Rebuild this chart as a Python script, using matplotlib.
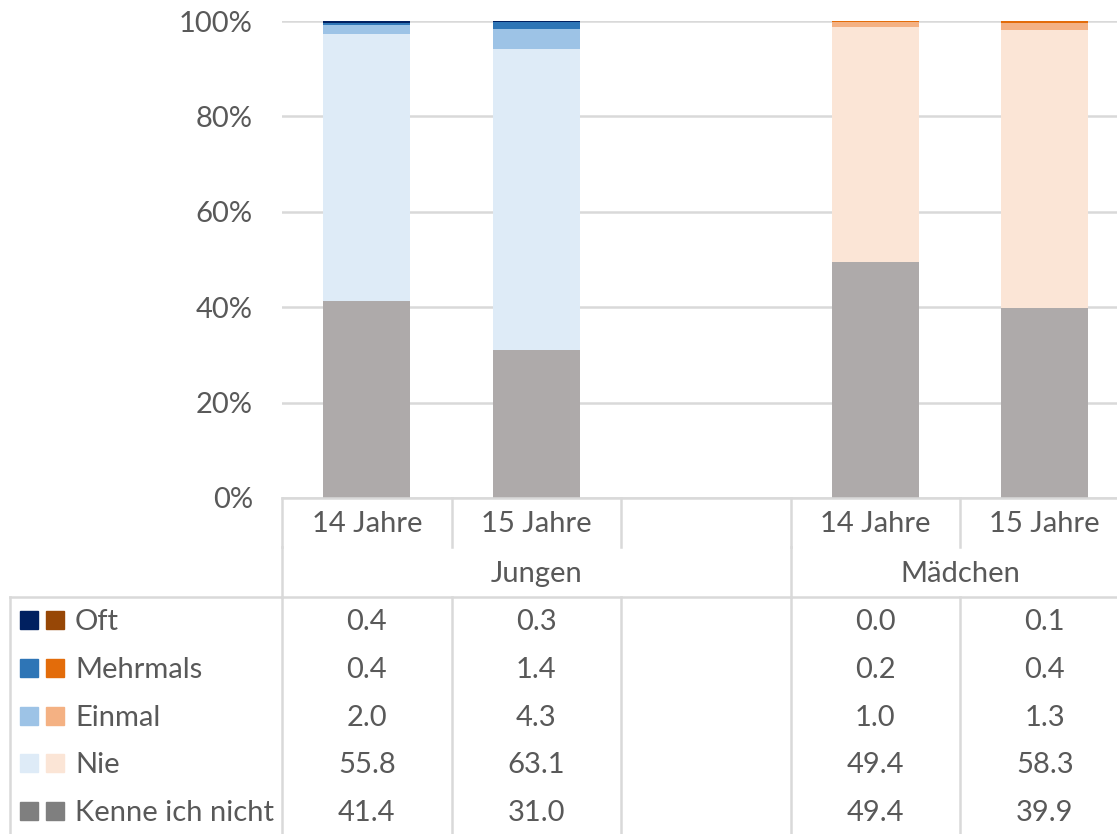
import matplotlib
matplotlib.use('Agg')
import matplotlib.pyplot as plt
from matplotlib.lines import Line2D
from matplotlib.patches import Rectangle
from matplotlib.transforms import blended_transform_factory
import numpy as np

# data
categories = ["14 Jahre", "15 Jahre", "", "14 Jahre", "15 Jahre"]
groups = ["Jungen", "Mädchen"]
series = ["Oft", "Mehrmals", "Einmal", "Nie", "Kenne ich nicht"]
jungen = {  # 14 Jahre, 15 Jahre
    "Oft": [0.4, 0.3],
    "Mehrmals": [0.4, 1.4],
    "Einmal": [2.0, 4.3],
    "Nie": [55.8, 63.1],
    "Kenne ich nicht": [41.4, 31.0],
}
maedchen = {
    "Oft": [0.0, 0.1],
    "Mehrmals": [0.2, 0.4],
    "Einmal": [1.0, 1.3],
    "Nie": [49.4, 58.3],
    "Kenne ich nicht": [49.4, 39.9],
}
blues = {"Oft": "#002060", "Mehrmals": "#2E75B6", "Einmal": "#9DC3E6",
         "Nie": "#DEEBF7", "Kenne ich nicht": "#AEAAAA"}
oranges = {"Oft": "#974706", "Mehrmals": "#E36C0A", "Einmal": "#F4B183",
           "Nie": "#FBE5D6", "Kenne ich nicht": "#AEAAAA"}
key_grey = "#7F7F7F"

W, H = 1117, 834
txt = "#595959"
grid = "#D9D9D9"
plt.rcParams['font.family'] = ['Lato', 'DejaVu Sans']
fs = 21

fig = plt.figure(figsize=(W / 100, H / 100), dpi=100)
slot = 169.5
ax = fig.add_axes([282 / W, (H - 498) / H, 5 * slot / W, (498 - 21) / H])

xj = np.array([0, 1])
xm = np.array([3, 4])
bw = 0.515
stack_order = ["Kenne ich nicht", "Nie", "Einmal", "Mehrmals", "Oft"]
bj = np.zeros(2)
bm = np.zeros(2)
for s in stack_order:
    ax.bar(xj, jungen[s], bw, bottom=bj, color=blues[s], zorder=3)
    ax.bar(xm, maedchen[s], bw, bottom=bm, color=oranges[s], zorder=3)
    bj += np.array(jungen[s])
    bm += np.array(maedchen[s])

ax.set_xlim(-0.5, 4.5)
ax.set_ylim(0, 100)
ax.set_yticks(np.arange(0, 101, 20))
ax.set_yticklabels([f"{v}%" for v in range(0, 101, 20)])
ax.tick_params(axis='y', length=0, pad=21, labelsize=fs, labelcolor=txt)
ax.set_xticks([])
ax.grid(axis='y', color=grid, linewidth=1.8, zorder=0)
for sp in ax.spines.values():
    sp.set_visible(False)
ax.axhline(0, color=grid, linewidth=1.8, zorder=4, clip_on=False)

# data table below the plot
tr = blended_transform_factory(ax.transData, fig.transFigure)
fy = lambda p: (H - p) / H
fx = lambda p: p / W
dy = 2  # text nudge in px


def vline(x, y0, y1, trans=tr):
    fig.add_artist(Line2D([x, x], [fy(y0), fy(y1)], transform=trans,
                          color=grid, linewidth=1.8))


for i, c in enumerate(categories):
    fig.text(i, fy(522 + dy), c, transform=tr, ha='center', va='center',
             fontsize=fs, color=txt)
fig.text(1.0, fy(572 + dy), groups[0], transform=tr, ha='center', va='center',
         fontsize=fs, color=txt)
fig.text(3.5, fy(572 + dy), groups[1], transform=tr, ha='center', va='center',
         fontsize=fs, color=txt)

for x in [-0.5, 0.5, 1.5, 2.5, 3.5]:
    vline(x, 498, 547)
for x in [-0.5, 2.5]:
    vline(x, 547, 597)
for x in [-0.5, 0.5, 1.5, 2.5, 3.5]:
    vline(x, 597, 840)
vline(fx(10), 597, 840, trans=fig.transFigure)
fig.add_artist(Line2D([fx(10), 1], [fy(597), fy(597)], transform=fig.transFigure,
                      color=grid, linewidth=1.8))

row_y = [620, 668, 716, 763, 811]
for s, yp in zip(series, row_y):
    kb = blues[s] if s != "Kenne ich nicht" else key_grey
    ko = oranges[s] if s != "Kenne ich nicht" else key_grey
    fig.add_artist(Rectangle((fx(20), fy(yp + 9)), 18 / W, 18 / H,
                             transform=fig.transFigure, color=kb))
    fig.add_artist(Rectangle((fx(46), fy(yp + 9)), 18 / W, 18 / H,
                             transform=fig.transFigure, color=ko))
    fig.text(fx(75), fy(yp + dy), s, ha='left', va='center', fontsize=fs, color=txt)
    for x, v in zip(xj, jungen[s]):
        fig.text(x, fy(yp + dy), f"{v:.1f}", transform=tr, ha='center',
                 va='center', fontsize=fs, color=txt)
    for x, v in zip(xm, maedchen[s]):
        fig.text(x, fy(yp + dy), f"{v:.1f}", transform=tr, ha='center',
                 va='center', fontsize=fs, color=txt)

fig.savefig("out.png", dpi=100)
